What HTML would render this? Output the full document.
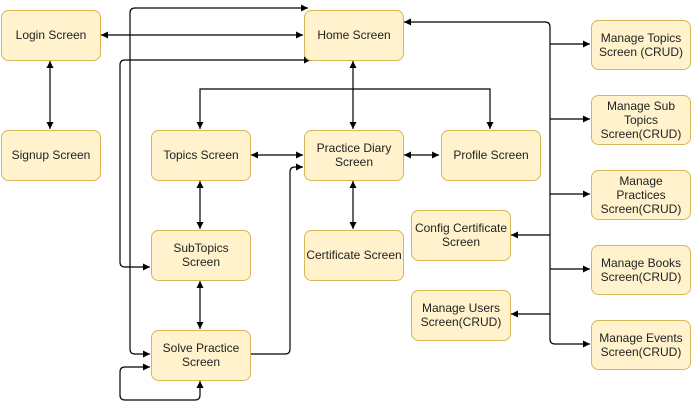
<!DOCTYPE html>
<html><head><meta charset="utf-8"><style>
html,body{margin:0;padding:0;background:#fff;width:691px;height:410px;overflow:hidden}
svg{display:block}
text{font-family:"Liberation Sans",sans-serif;font-size:12px;fill:#222;text-anchor:middle}
rect{fill:#fff2cc;stroke:#d6b656;stroke-width:1}
path{fill:none;stroke:#000;stroke-width:1.2}
</style></head><body>
<svg width="691" height="410" viewBox="0 0 691 410" xmlns="http://www.w3.org/2000/svg">
<defs>
<marker id="a" viewBox="0 0 10 10" refX="10" refY="5" markerWidth="7" markerHeight="7" orient="auto-start-reverse" markerUnits="userSpaceOnUse">
<path d="M0,0 L10,5 L0,10 z" style="fill:#000;stroke:none"/>
</marker>
</defs>
<!-- connectors -->
<path d="M101,35 H303" marker-start="url(#a)" marker-end="url(#a)"/>
<path d="M50,61 V129" marker-start="url(#a)" marker-end="url(#a)"/>
<path d="M353,61 V129" marker-start="url(#a)" marker-end="url(#a)"/>
<path d="M200,129 V89 H490 V129" marker-start="url(#a)" marker-end="url(#a)"/>
<path d="M251,155 H303" marker-start="url(#a)" marker-end="url(#a)"/>
<path d="M404,155 H439" marker-start="url(#a)" marker-end="url(#a)"/>
<path d="M353,181 V229" marker-start="url(#a)" marker-end="url(#a)"/>
<path d="M200,181 V229" marker-start="url(#a)" marker-end="url(#a)"/>
<path d="M200,281 V329" marker-start="url(#a)" marker-end="url(#a)"/>
<path d="M308,8 H135 Q130,8 130,13 V349 Q130,354 135,354 H150" marker-start="url(#a)" marker-end="url(#a)"/>
<path d="M311,60 H125 Q120,60 120,65 V262 Q120,267 125,267 H150" marker-start="url(#a)" marker-end="url(#a)"/>
<path d="M251,354 H285 Q290,354 290,349 V172 Q290,167 295,167 H303" marker-end="url(#a)"/>
<path d="M200,381 V395 Q200,400 195,400 H125 Q120,400 120,395 V372 Q120,367 125,367 H150" marker-start="url(#a)" marker-end="url(#a)"/>
<path d="M404,22 H545 Q550,22 550,27 V339 Q550,344 555,344 H590" marker-start="url(#a)" marker-end="url(#a)"/>
<path d="M550,44 H590" marker-end="url(#a)"/>
<path d="M550,119 H590" marker-end="url(#a)"/>
<path d="M550,194 H590" marker-end="url(#a)"/>
<path d="M550,269 H590" marker-end="url(#a)"/>
<path d="M550,235 H511" marker-end="url(#a)"/>
<path d="M550,314 H511" marker-end="url(#a)"/>
<!-- boxes -->
<rect x="1.5" y="10.5" width="99" height="50" rx="7"/><text x="51" y="39">Login Screen</text>
<rect x="1.5" y="130.5" width="99" height="50" rx="7"/><text x="51" y="159">Signup Screen</text>
<rect x="304.5" y="10.5" width="99" height="50" rx="7"/><text x="354" y="39">Home Screen</text>
<rect x="151.5" y="130.5" width="99" height="50" rx="7"/><text x="201" y="159">Topics Screen</text>
<rect x="304.5" y="130.5" width="99" height="50" rx="7"/><text x="354" y="152">Practice Diary</text><text x="354" y="166">Screen</text>
<rect x="441.5" y="130.5" width="99" height="50" rx="7"/><text x="491" y="159">Profile Screen</text>
<rect x="151.5" y="230.5" width="99" height="50" rx="7"/><text x="201" y="252">SubTopics</text><text x="201" y="266">Screen</text>
<rect x="304.5" y="230.5" width="99" height="50" rx="7"/><text x="354" y="259">Certificate Screen</text>
<rect x="151.5" y="330.5" width="99" height="50" rx="7"/><text x="201" y="352">Solve Practice</text><text x="201" y="366">Screen</text>
<rect x="411.5" y="210.5" width="99" height="50" rx="7"/><text x="461" y="232">Config Certificate</text><text x="461" y="246">Screen</text>
<rect x="411.5" y="290.5" width="99" height="50" rx="7"/><text x="461" y="312">Manage Users</text><text x="461" y="326">Screen(CRUD)</text>
<rect x="591.5" y="20.5" width="99" height="49" rx="7"/><text x="641" y="42">Manage Topics</text><text x="641" y="56">Screen (CRUD)</text>
<rect x="591.5" y="95.5" width="99" height="49" rx="7"/><text x="641" y="110">Manage Sub</text><text x="641" y="124">Topics</text><text x="641" y="138">Screen(CRUD)</text>
<rect x="591.5" y="170.5" width="99" height="49" rx="7"/><text x="641" y="185">Manage</text><text x="641" y="199">Practices</text><text x="641" y="213">Screen(CRUD)</text>
<rect x="591.5" y="245.5" width="99" height="49" rx="7"/><text x="641" y="267">Manage Books</text><text x="641" y="281">Screen(CRUD)</text>
<rect x="591.5" y="320.5" width="99" height="49" rx="7"/><text x="641" y="342">Manage Events</text><text x="641" y="356">Screen(CRUD)</text>
</svg>
</body></html>
